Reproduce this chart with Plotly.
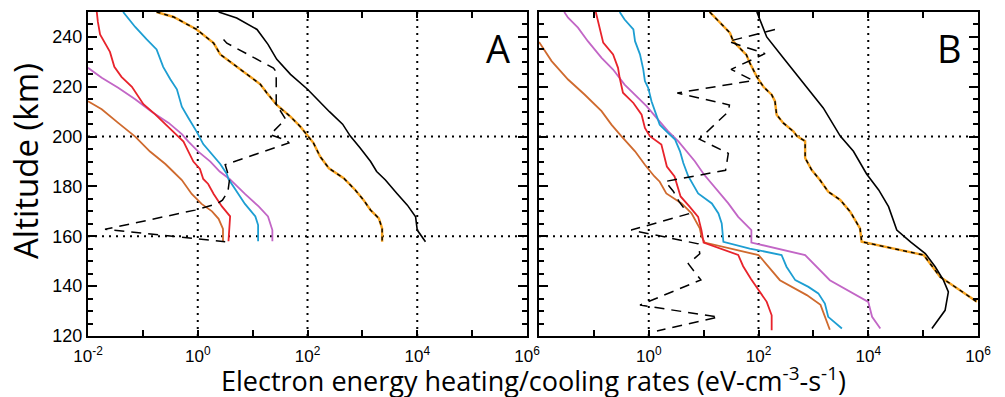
import numpy as np
import plotly.graph_objects as go

# ---------------- Panel A data (log10 of rate in eV cm^-3 s^-1, altitude in km) ----------------
a_red_alt = [250, 246, 241, 234, 228, 224, 220, 217, 213, 209, 205, 200, 198, 194, 190, 187, 183, 181, 177, 172, 168, 158]
a_red_log = [-1.84, -1.82, -1.78, -1.60, -1.52, -1.39, -1.20, -1.11, -0.99, -0.78, -0.59, -0.35, -0.26, -0.17, -0.08, 0.04, 0.10, 0.19, 0.29, 0.44, 0.59, 0.56]

a_blue_alt = [250, 244, 239, 235, 228, 223, 219, 212, 207.5, 202, 197, 193, 189, 185, 183, 179, 173, 168, 164.5, 158]
a_blue_log = [-1.36, -1.14, -0.93, -0.75, -0.63, -0.50, -0.38, -0.29, -0.17, -0.02, 0.10, 0.26, 0.41, 0.53, 0.56, 0.68, 0.86, 1.05, 1.10, 1.10]

a_purple_alt = [227.6, 223.6, 219.6, 215, 210, 205.5, 201, 198, 194, 190, 186, 183, 177, 172, 168, 162.5, 158]
a_purple_log = [-2.0, -1.75, -1.45, -1.14, -0.84, -0.53, -0.29, -0.17, 0.01, 0.23, 0.40, 0.58, 0.86, 1.11, 1.28, 1.36, 1.36]

a_brown_alt = [214.2, 211, 205.5, 200, 194, 189, 186, 182.6, 177, 173, 170, 167, 163, 158]
a_brown_log = [-2.0, -1.75, -1.45, -1.14, -0.87, -0.59, -0.45, -0.29, -0.11, 0.07, 0.26, 0.38, 0.46, 0.46]

a_orange_alt = [250, 248, 243, 240, 237.5, 233, 229, 224, 221, 217.5, 212.7, 208, 204, 200.7, 197.4, 192, 187.3, 183.3, 178.6, 174.6, 170.5, 167.2, 163.2, 157.8]
a_orange_log = [-0.75, -0.44, -0.02, 0.14, 0.29, 0.41, 0.65, 0.96, 1.14, 1.26, 1.44, 1.69, 1.87, 1.99, 2.11, 2.23, 2.39, 2.66, 2.87, 3.02, 3.15, 3.30, 3.36, 3.36]

a_black_alt = [250, 247.6, 243, 237, 231, 225, 219, 214, 210, 205, 200.2, 195.4, 190, 186, 182.6, 177.2, 172.5, 167.8, 162.5, 157.8]
a_black_log = [0.38, 0.71, 1.08, 1.28, 1.44, 1.69, 2.0, 2.22, 2.40, 2.64, 2.78, 2.96, 3.15, 3.26, 3.42, 3.63, 3.82, 3.97, 4.0, 4.15]

a_net_alt = [239, 237.5, 227.5, 226, 213, 207, 200.8, 198.5, 197.5, 188.7, 183, 178, 174.5, 173, 170.5, 162.8, 157.8]
a_net_log = [0.47, 0.53, 1.38, 1.43, 1.43, 1.60, 1.32, 1.62, 1.66, 0.50, 0.58, 0.55, 0.45, 0.35, -0.05, -1.69, 0.50]

# ---------------- Panel B data ----------------
b_red_alt = [250, 243.7, 237.7, 233, 227.6, 223.6, 217.6, 213.5, 208.8, 203.5, 200.2, 196.8, 191.4, 188, 184, 180, 176, 172, 167.8, 162.5, 157.5, 152.5, 148, 143, 138.4, 133.7, 128.3, 122.3]
b_red_log = [-0.965, -0.89, -0.83, -0.65, -0.56, -0.53, -0.47, -0.28, -0.13, -0.07, 0.02, 0.23, 0.29, 0.33, 0.47, 0.53, 0.58, 0.74, 0.90, 0.96, 1.0, 1.63, 1.72, 1.86, 2.0, 2.15, 2.24, 2.24]

b_blue_alt = [250, 247, 243, 238.3, 233, 227, 222.3, 219.6, 214.2, 208.2, 204.8, 201.5, 198.8, 194.1, 189.4, 184.1, 177.2, 173.2, 169.2, 165.2, 157.8, 155.1, 152.5, 147.8, 142.4, 139.7, 137.1, 133, 127.7, 123]
b_blue_log = [-0.53, -0.44, -0.28, -0.25, -0.16, -0.10, -0.07, -0.01, 0.05, 0.14, 0.20, 0.35, 0.48, 0.57, 0.63, 0.72, 0.90, 1.15, 1.27, 1.33, 1.36, 1.84, 2.42, 2.51, 2.67, 2.91, 3.09, 3.21, 3.27, 3.52]

b_purple_alt = [250, 247.7, 243.7, 238.3, 231.6, 226.9, 220.9, 216.9, 212.2, 206.8, 202.2, 198.1, 194.1, 190.1, 185, 178.6, 173.2, 167.8, 162.5, 157.5, 152.5, 142.4, 137.1, 133.7, 127.7, 123]
b_purple_log = [-1.54, -1.47, -1.29, -1.11, -0.86, -0.65, -0.44, -0.25, -0.04, 0.17, 0.35, 0.54, 0.69, 0.84, 1.0, 1.24, 1.45, 1.63, 1.87, 1.87, 2.85, 3.30, 3.73, 4.0, 4.07, 4.22]

b_brown_alt = [238, 230.3, 222.9, 216.9, 210.2, 204.8, 200.2, 194.1, 188.7, 184.1, 181.9, 177.2, 173.2, 169.2, 163.2, 160, 157.5, 152.5, 142.4, 136.4, 132.5, 122.5]
b_brown_log = [-2.0, -1.77, -1.47, -1.17, -0.86, -0.68, -0.50, -0.25, -0.07, 0.10, 0.20, 0.32, 0.60, 0.78, 0.93, 0.96, 1.02, 2.0, 2.39, 2.88, 3.13, 3.30]

b_orange_alt = [250, 241.6, 238.2, 232.8, 229.6, 224, 220, 216.8, 214.2, 208.8, 205.5, 202, 200.2, 198.2, 191.4, 186.6, 182.6, 177.9, 174.6, 169.9, 163.2, 157.8, 152.5, 143.7, 141.1, 133.7]
b_orange_log = [1.11, 1.48, 1.54, 1.78, 1.84, 1.97, 2.09, 2.24, 2.30, 2.33, 2.45, 2.64, 2.70, 2.85, 2.85, 2.97, 3.12, 3.27, 3.49, 3.67, 3.85, 3.88, 5.01, 5.31, 5.49, 5.98]

b_black_alt = [250, 240, 231.6, 221.6, 211.5, 200.2, 194.1, 185, 178.6, 171.9, 162.5, 157.8, 153.1, 147.8, 142.4, 137.7, 130.3, 123]
b_black_log = [1.97, 2.15, 2.45, 2.82, 3.18, 3.49, 3.73, 3.97, 4.19, 4.37, 4.52, 4.77, 5.04, 5.22, 5.37, 5.46, 5.40, 5.16]

b_net_alt = [243, 238.2, 233.3, 227, 222.5, 217.5, 212.7, 210, 199, 193.3, 186.5, 182, 178, 174, 169, 162.5, 157, 153, 149, 142.5, 132.4, 127.6, 122]
b_net_log = [2.30, 1.45, 2.12, 1.50, 1.90, 0.52, 1.47, 1.45, 0.92, 1.45, 1.40, 0.30, 0.45, 0.55, 0.72, -0.32, 0.90, 0.93, 0.72, 0.95, -0.16, 1.27, 0.15]

# ---------------- axis / label values ----------------
x_tick_exps = [-2, -1, 0, 1, 2, 3, 4, 5, 6]
x_label_exps = [-2, 0, 2, 4, 6]
y_tick_vals = [120, 140, 160, 180, 200, 220, 240]
grid_x_vals = [1.0, 100.0, 10000.0]
grid_y_vals = [160, 200]

RED = "#e8232b"
BLUE = "#1d9ed2"
PURPLE = "#c266c6"
BROWN = "#cf6a2e"
ORANGE = "#f6a21e"
BLACK = "#000000"

fig = go.Figure()


def add(xa, ya, logs, alts, color, width, dash=None):
    fig.add_trace(go.Scatter(
        x=np.power(10.0, np.array(logs, dtype=float)), y=alts, mode="lines",
        line=dict(color=color, width=width, dash=dash),
        xaxis=xa, yaxis=ya, showlegend=False, hoverinfo="skip"))


for xa, ya, d in [
    ("x", "y", dict(red=(a_red_log, a_red_alt), blue=(a_blue_log, a_blue_alt), purple=(a_purple_log, a_purple_alt),
                    brown=(a_brown_log, a_brown_alt), orange=(a_orange_log, a_orange_alt), black=(a_black_log, a_black_alt),
                    net=(a_net_log, a_net_alt))),
    ("x2", "y2", dict(red=(b_red_log, b_red_alt), blue=(b_blue_log, b_blue_alt), purple=(b_purple_log, b_purple_alt),
                      brown=(b_brown_log, b_brown_alt), orange=(b_orange_log, b_orange_alt), black=(b_black_log, b_black_alt),
                      net=(b_net_log, b_net_alt))),
]:
    add(xa, ya, *d["brown"], BROWN, 1.8)
    add(xa, ya, *d["purple"], PURPLE, 1.8)
    add(xa, ya, *d["blue"], BLUE, 1.8)
    add(xa, ya, *d["red"], RED, 1.8)
    add(xa, ya, *d["orange"], ORANGE, 2.4)
    add(xa, ya, *d["orange"], BLACK, 1.4, "4px,4px")
    add(xa, ya, *d["black"], BLACK, 1.6)
    add(xa, ya, *d["net"], BLACK, 1.5, "10px,7px")

tickvals = [10.0 ** e for e in x_tick_exps]


def ticktext(skip_first):
    out = []
    for i, e in enumerate(x_tick_exps):
        if e in x_label_exps and not (skip_first and i == 0):
            out.append("10<sup>%d</sup>" % e)
        else:
            out.append("")
    return out


x_tick_font = dict(family="Liberation Sans, Arial, sans-serif", size=17, color="black")
y_tick_font = dict(family="Liberation Sans, Arial, sans-serif", size=18, color="black")
W, H = 1005, 397
xdomA = [88 / W, 527 / W]
xdomB = [539 / W, 978 / W]
ydom = [1 - 336 / H, 1 - 12 / H]

common_x = dict(type="log", range=[-2, 6], showline=True, linecolor="black", linewidth=2, mirror="ticks",
                ticks="inside", ticklen=6, tickwidth=1.5, tickcolor="black", tickvals=tickvals,
                showgrid=False, zeroline=False, tickfont=x_tick_font, automargin=False, ticklabelstandoff=4)
common_y = dict(range=[120, 250], showline=True, linecolor="black", linewidth=2, mirror="ticks",
                ticks="inside", ticklen=9, tickwidth=1.5, tickcolor="black", tickvals=y_tick_vals,
                minor=dict(dtick=5, tick0=120, ticks="inside", ticklen=5, tickwidth=1.5, tickcolor="black"),
                showgrid=False, zeroline=False, tickfont=y_tick_font, automargin=False, domain=ydom)

fig.update_layout(
    width=W, height=H, margin=dict(l=0, r=0, t=0, b=0),
    paper_bgcolor="white", plot_bgcolor="white",
    xaxis=dict(common_x, domain=xdomA, anchor="y", ticktext=ticktext(False)),
    yaxis=dict(common_y, anchor="x", showticklabels=True),
    xaxis2=dict(common_x, domain=xdomB, anchor="y2", ticktext=ticktext(True)),
    yaxis2=dict(common_y, anchor="x2", showticklabels=False),
)

shapes = []
for xr, yr in [("x", "y"), ("x2", "y2")]:
    for v in grid_x_vals:
        shapes.append(dict(type="line", xref=xr, yref=yr + " domain", x0=v, x1=v, y0=0, y1=1,
                           line=dict(color="black", width=2, dash="2px,5px"), layer="below"))
    for v in grid_y_vals:
        shapes.append(dict(type="line", xref=xr + " domain", yref=yr, x0=0, x1=1, y0=v, y1=v,
                           line=dict(color="black", width=2, dash="2px,5px"), layer="below"))
fig.update_layout(shapes=shapes)

title_font = dict(family="Open Sans, sans-serif", size=27, color="black")
fig.add_annotation(text="A", xref="paper", yref="paper", x=497.5 / W, y=1 - 48 / H, showarrow=False,
                   font=dict(family="Open Sans, sans-serif", size=38, color="black"), xanchor="center", yanchor="middle")
fig.add_annotation(text="B", xref="paper", yref="paper", x=949 / W, y=1 - 48 / H, showarrow=False,
                   font=dict(family="Open Sans, sans-serif", size=38, color="black"), xanchor="center", yanchor="middle")
fig.add_annotation(text="Electron energy heating/cooling rates (eV-cm<sup>-3</sup>-s<sup>-1</sup>)",
                   xref="paper", yref="paper", x=533 / W, y=1 - 379 / H, showarrow=False,
                   font=title_font, xanchor="center", yanchor="middle")
fig.add_annotation(text="Altitude (km)", xref="paper", yref="paper", x=25 / W, y=1 - 161 / H, showarrow=False,
                   font=dict(family="Open Sans, sans-serif", size=33, color="black"),
                   textangle=-90, xanchor="center", yanchor="middle")

fig.write_html("out.html")
